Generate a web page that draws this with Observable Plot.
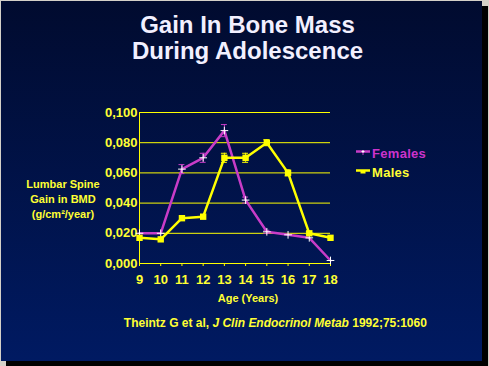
<!DOCTYPE html>
<html>
<head>
<meta charset="utf-8">
<script src="https://cdn.jsdelivr.net/npm/d3@7"></script>
<script src="https://cdn.jsdelivr.net/npm/@observablehq/plot@0.6"></script>
<style>
  html, body { margin: 0; padding: 0; }
  body { width: 489px; height: 366px; background: #d4d0c8; position: relative; overflow: hidden;
         font-family: "Liberation Sans", Arial, sans-serif; }
  #shadow { position: absolute; left: 6px; top: 6px; width: 482px; height: 360px; background: #000; }
  #slide { position: absolute; left: 1px; top: 1px; width: 481px; height: 360px;
           background: linear-gradient(#010b2f, #001a62); }
  .abs { position: absolute; white-space: nowrap; }
  #title { left: 0; width: 495px; top: 12px; text-align: center; color: #f2f0ff;
           font-size: 24px; font-weight: bold; line-height: 26px; }
  #ylabel { left: 3px; width: 120px; top: 177px; text-align: center; color: #ffff33;
            font-size: 11px; font-weight: bold; line-height: 15px; }
  #xlabel { left: 148px; width: 200px; top: 292px; text-align: center; color: #ffff33;
            font-size: 11px; font-weight: bold; }
  #cite { left: 75px; width: 400px; top: 315px; text-align: center; color: #ffff33;
          font-size: 13px; font-weight: bold; }
  #cite span.inner { display: inline-block; transform-origin: center; }
  .leg { font-size: 13px; font-weight: bold; letter-spacing: 0.3px; }
  #chart { position: absolute; left: 0; top: 0; }
</style>
</head>
<body>
<div id="shadow"></div>
<div id="slide"></div>
<div id="chart"></div>
<div id="title" class="abs">Gain In Bone Mass<br>During Adolescence</div>
<div id="ylabel" class="abs">Lumbar Spine<br>Gain in BMD<br>(g/cm²/year)</div>
<div id="xlabel" class="abs">Age (Years)</div>
<div id="cite" class="abs"><span class="inner">Theintz G et al, <i>J Clin Endocrinol Metab</i> 1992;75:1060</span></div>
<div id="legend"></div>
<script>
// ---- data ----
const ages = [9, 10, 11, 12, 13, 14, 15, 16, 17, 18];
const femaleValues = [0.020, 0.020, 0.0625, 0.070, 0.088, 0.042, 0.021, 0.019, 0.017, 0.002];
const femaleErrors = [0, 0, 0.003, 0.003, 0.004, 0.002, 0.001, 0, 0, 0];
const maleValues = [0.017, 0.016, 0.030, 0.031, 0.070, 0.070, 0.080, 0.060, 0.020, 0.017];
const maleErrors = [0, 0, 0, 0, 0.003, 0.003, 0.002, 0.002, 0.001, 0];
const yTicks = [0, 0.02, 0.04, 0.06, 0.08, 0.1];
const seriesNames = ["Females", "Males"];

const MAGENTA = "#c83cc8";
const YELLOW = "#ffff00";
const LABEL = "#ffff33";

const females = ages.map((a, i) => ({age: a, v: femaleValues[i], e: femaleErrors[i]}));
const males = ages.map((a, i) => ({age: a, v: maleValues[i], e: maleErrors[i]}));
const fErr = females.filter(d => d.e > 0);
const mErr = males.filter(d => d.e > 0);
const capHalf = 0.14;

const fmt = d => d3.format(".3f")(d).replace(".", ",");

const chart = Plot.plot({
  width: 489, height: 366,
  marginLeft: 139, marginRight: 159, marginTop: 112, marginBottom: 103,
  x: {domain: [9, 18]},
  y: {domain: [0, 0.1]},
  style: {background: "transparent", color: LABEL, fontFamily: "'Liberation Sans', Arial, sans-serif", overflow: "visible"},
  marks: [
    Plot.ruleY(yTicks, {x1: 9, x2: 18, stroke: YELLOW, strokeWidth: 1}),
    Plot.ruleX([9], {y1: 0, y2: 0.1, stroke: YELLOW, strokeWidth: 1}),
    Plot.axisX({ticks: ages, tickSize: 3, tickPadding: 8, tickFormat: d => String(d), stroke: YELLOW,
                fill: LABEL, fontSize: 13, fontWeight: "bold", label: null}),
    Plot.axisY({ticks: yTicks, tickSize: 0, tickPadding: 2, tickFormat: fmt,
                fill: LABEL, fontSize: 13, fontWeight: "bold", label: null}),
    // females
    Plot.line(females, {x: "age", y: "v", stroke: MAGENTA, strokeWidth: 2.5}),
    Plot.ruleX(fErr, {x: "age", y1: d => d.v - d.e, y2: d => d.v + d.e, stroke: MAGENTA, strokeWidth: 1}),
    Plot.ruleY(fErr, {y: d => d.v + d.e, x1: d => d.age - capHalf, x2: d => d.age + capHalf, stroke: MAGENTA, strokeWidth: 1}),
    Plot.ruleY(fErr, {y: d => d.v - d.e, x1: d => d.age - capHalf, x2: d => d.age + capHalf, stroke: MAGENTA, strokeWidth: 1}),
    Plot.dot(females, {x: "age", y: "v", symbol: "plus", r: 2.6, stroke: "#ffffff", strokeWidth: 1}),
    // males
    Plot.line(males, {x: "age", y: "v", stroke: YELLOW, strokeWidth: 2.5}),
    Plot.ruleX(mErr, {x: "age", y1: d => d.v - d.e, y2: d => d.v + d.e, stroke: YELLOW, strokeWidth: 1}),
    Plot.ruleY(mErr, {y: d => d.v + d.e, x1: d => d.age - capHalf, x2: d => d.age + capHalf, stroke: YELLOW, strokeWidth: 1}),
    Plot.ruleY(mErr, {y: d => d.v - d.e, x1: d => d.age - capHalf, x2: d => d.age + capHalf, stroke: YELLOW, strokeWidth: 1}),
    Plot.dot(males, {x: "age", y: "v", symbol: "square", r: 3.6, fill: YELLOW})
  ]
});
document.getElementById("chart").appendChild(chart);

// legend
const legend = document.getElementById("legend");
const legendSpecs = [
  {name: seriesNames[0], color: MAGENTA, top: 146},
  {name: seriesNames[1], color: YELLOW, top: 165}
];
legendSpecs.forEach(s => {
  const row = document.createElement("div");
  row.className = "abs";
  row.style.left = "356px";
  row.style.top = s.top + "px";
  const isF = s.name === "Females";
  row.innerHTML =
    `<svg width="16" height="10" style="position:absolute;left:0;top:2px;overflow:visible">` +
    `<line x1="0" y1="3.5" x2="14" y2="3.5" stroke="${s.color}" stroke-width="2.5"/>` +
    (isF
      ? `<line x1="7" y1="3.5" x2="7" y2="7" stroke="${s.color}" stroke-width="1"/><path d="M5.5 3.5H8.5M7 2V5" stroke="#fff" stroke-width="1"/>`
      : `<rect x="4.5" y="3" width="5" height="3.5" fill="${s.color}"/>`) +
    `</svg>` +
    `<span class="leg" style="position:absolute;left:16px;top:0;color:${isF ? "#cc33cc" : LABEL}">${s.name}</span>`;
  legend.appendChild(row);
});

// fit citation to reference width (condensed)
const inner = document.querySelector("#cite .inner");
const w = inner.getBoundingClientRect().width;
inner.style.transform = `scaleX(${303 / w})`;
</script>
</body>
</html>
